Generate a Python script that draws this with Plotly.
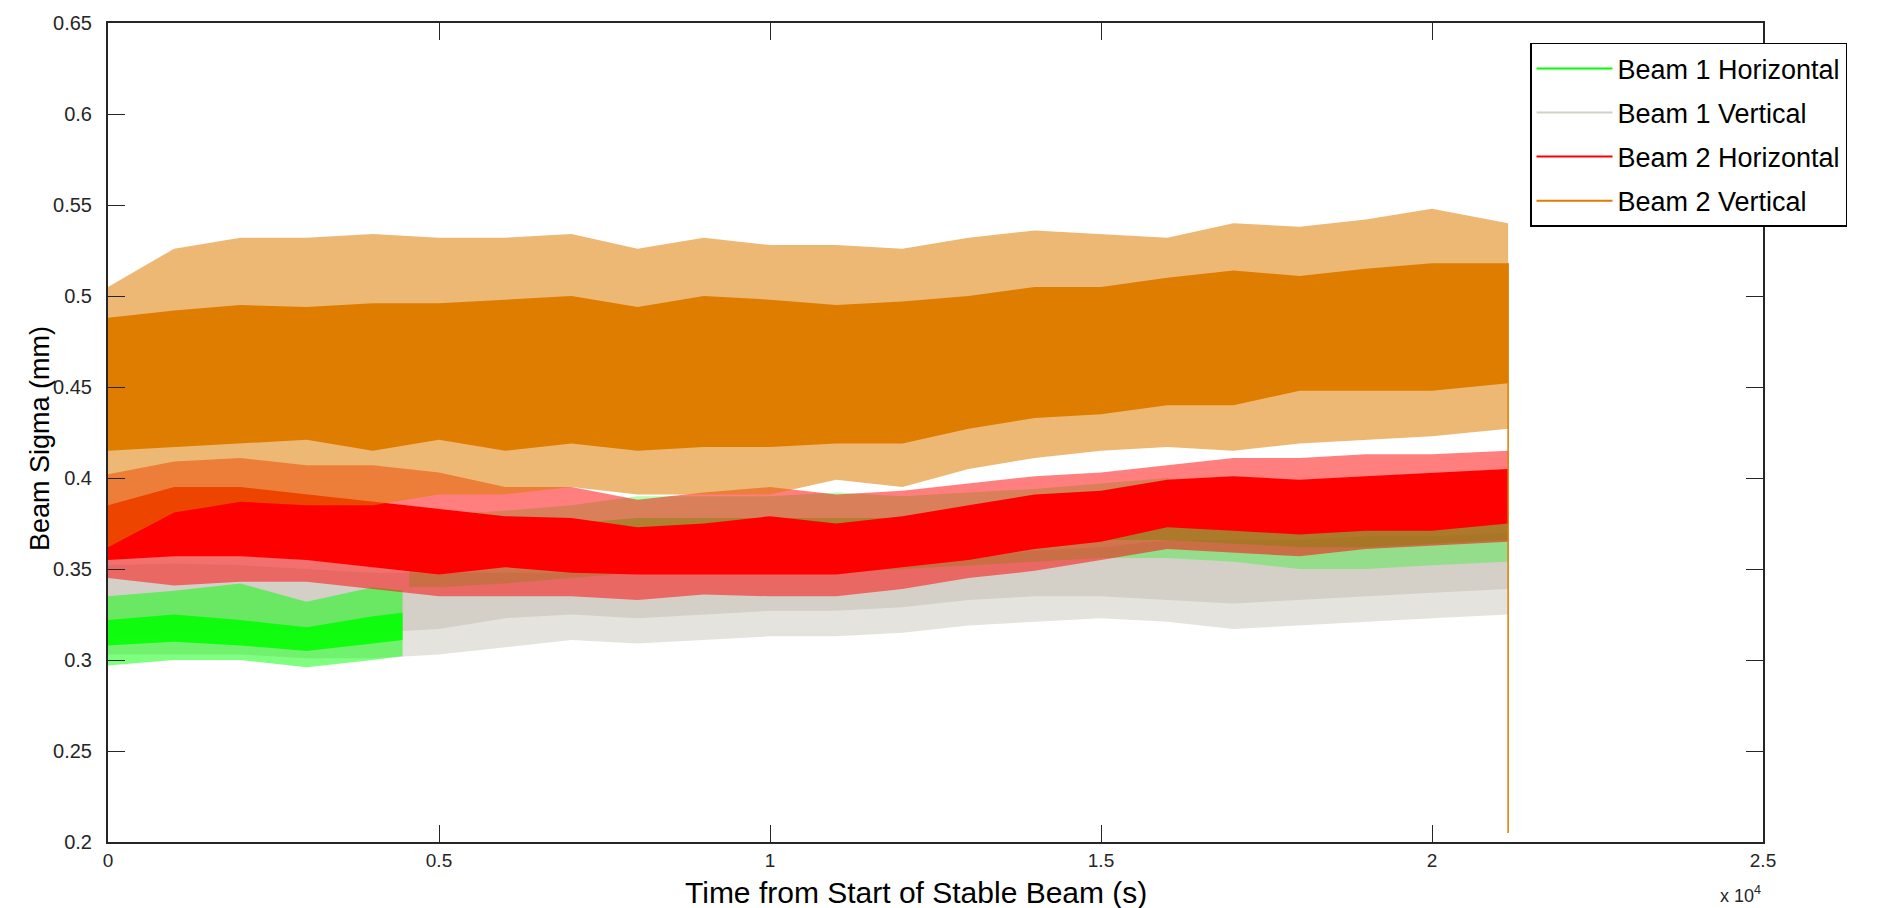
import plotly.graph_objects as go

# ---------------- data ----------------
# common sample times (s) for the envelope readings
times = [0, 1000, 2000, 3000, 4000, 5000, 6000, 7000, 8000, 9000, 10000,
         11000, 12000, 13000, 14000, 15000, 16000, 17000, 18000, 19000, 20000, 21150]

# Beam 2 Vertical (orange): spike tips, dense core, lower spike tips
b2v_outer_hi = [0.505, 0.526, 0.532, 0.532, 0.534, 0.532, 0.532, 0.534, 0.526, 0.532, 0.528,
                0.528, 0.526, 0.532, 0.536, 0.534, 0.532, 0.540, 0.538, 0.542, 0.548, 0.540]
b2v_core_hi = [0.488, 0.492, 0.495, 0.494, 0.496, 0.496, 0.498, 0.500, 0.494, 0.500, 0.498,
               0.495, 0.497, 0.500, 0.505, 0.505, 0.510, 0.514, 0.511, 0.515, 0.518, 0.518]
b2v_core_lo = [0.415, 0.417, 0.419, 0.421, 0.415, 0.421, 0.415, 0.419, 0.415, 0.417, 0.417,
               0.419, 0.419, 0.427, 0.433, 0.435, 0.440, 0.440, 0.448, 0.448, 0.448, 0.452]
b2v_outer_lo = [0.362, 0.381, 0.387, 0.385, 0.385, 0.391, 0.391, 0.395, 0.391, 0.391, 0.391,
                0.399, 0.395, 0.405, 0.411, 0.415, 0.417, 0.415, 0.419, 0.421, 0.423, 0.427]
b2v_last_time = 21150
b2v_last_drop = 0.205

# Beam 2 Horizontal (red)
b2h_outer_hi = [0.402, 0.409, 0.411, 0.407, 0.407, 0.403, 0.395, 0.395, 0.388, 0.392, 0.395,
                0.391, 0.393, 0.397, 0.401, 0.403, 0.407, 0.411, 0.411, 0.413, 0.413, 0.415]
b2h_core_hi = [0.385, 0.395, 0.395, 0.391, 0.387, 0.383, 0.379, 0.378, 0.373, 0.375, 0.379,
               0.375, 0.379, 0.385, 0.391, 0.393, 0.399, 0.401, 0.399, 0.401, 0.403, 0.405]
b2h_core_lo = [0.355, 0.357, 0.357, 0.355, 0.351, 0.347, 0.351, 0.348, 0.347, 0.347, 0.347,
               0.347, 0.351, 0.355, 0.361, 0.365, 0.373, 0.371, 0.369, 0.371, 0.371, 0.375]
b2h_outer_lo = [0.345, 0.341, 0.343, 0.343, 0.339, 0.335, 0.335, 0.335, 0.333, 0.336, 0.335,
                0.335, 0.339, 0.345, 0.349, 0.355, 0.361, 0.359, 0.357, 0.361, 0.363, 0.365]

# Beam 1 Vertical (grey)
b1v_outer_hi = [0.364, 0.365, 0.364, 0.362, 0.360, 0.360, 0.358, 0.358, 0.358, 0.358, 0.360,
                0.362, 0.364, 0.368, 0.372, 0.374, 0.376, 0.376, 0.376, 0.378, 0.378, 0.380]
b1v_core_hi = [0.352, 0.353, 0.352, 0.350, 0.348, 0.348, 0.348, 0.348, 0.348, 0.348, 0.350,
               0.350, 0.352, 0.356, 0.360, 0.362, 0.366, 0.366, 0.366, 0.368, 0.368, 0.370]
b1v_core_lo = [0.313, 0.315, 0.317, 0.315, 0.315, 0.317, 0.323, 0.325, 0.323, 0.325, 0.327,
               0.327, 0.329, 0.333, 0.335, 0.335, 0.333, 0.331, 0.333, 0.335, 0.337, 0.339]
b1v_outer_lo = [0.303, 0.303, 0.303, 0.301, 0.301, 0.303, 0.307, 0.311, 0.309, 0.311, 0.313,
                0.313, 0.315, 0.319, 0.321, 0.323, 0.321, 0.317, 0.319, 0.321, 0.323, 0.325]

# Beam 1 Horizontal (green) - own sample times, with a level step near 4500 s
b1h_times = [0, 1000, 2000, 3000, 4000, 4450,
             4550, 5000, 6000, 7000, 8000, 9000, 10000, 11000, 12000, 13000, 14000,
             15000, 16000, 17000, 18000, 19000, 20000, 21150]
b1h_step_index = 6
b1h_outer_hi = [0.335, 0.338, 0.342, 0.332, 0.340, 0.338,
                0.380, 0.380, 0.382, 0.385, 0.390, 0.390, 0.390, 0.392, 0.390, 0.392, 0.394,
                0.397, 0.400, 0.395, 0.392, 0.392, 0.395, 0.397]
b1h_core_hi = [0.322, 0.325, 0.322, 0.318, 0.324, 0.326,
               0.368, 0.370, 0.372, 0.375, 0.378, 0.378, 0.378, 0.378, 0.378, 0.380, 0.382,
               0.385, 0.386, 0.382, 0.380, 0.380, 0.382, 0.384]
b1h_core_lo = [0.308, 0.310, 0.308, 0.305, 0.309, 0.311,
               0.350, 0.350, 0.352, 0.355, 0.358, 0.358, 0.358, 0.358, 0.360, 0.362, 0.364,
               0.366, 0.366, 0.364, 0.362, 0.362, 0.364, 0.366]
b1h_outer_lo = [0.297, 0.300, 0.300, 0.296, 0.300, 0.302,
                0.340, 0.340, 0.342, 0.345, 0.348, 0.348, 0.348, 0.348, 0.350, 0.352, 0.354,
                0.356, 0.356, 0.354, 0.350, 0.350, 0.352, 0.354]

series_names = ["Beam 1 Horizontal", "Beam 1 Vertical", "Beam 2 Horizontal", "Beam 2 Vertical"]

x_tickvals = [0, 5000, 10000, 15000, 20000, 25000]
x_ticktext = ["0", "0.5", "1", "1.5", "2", "2.5"]
y_tickvals = [0.2, 0.25, 0.3, 0.35, 0.4, 0.45, 0.5, 0.55, 0.6, 0.65]
y_ticktext = ["0.2", "0.25", "0.3", "0.35", "0.4", "0.45", "0.5", "0.55", "0.6", "0.65"]

# ---------------- styles ----------------
COL = {
    "Beam 1 Horizontal": (0, 255, 0),
    "Beam 1 Vertical": (212, 208, 200),
    "Beam 2 Horizontal": (255, 0, 0),
    "Beam 2 Vertical": (222, 125, 0),
}
FONT = "Liberation Sans, Arial, Helvetica, sans-serif"
AX = "#262626"


def rgba(c, a):
    return f"rgba({c[0]},{c[1]},{c[2]},{a})"


fig = go.Figure()


def band(t, hi, lo, color, alpha):
    fig.add_trace(go.Scatter(
        x=list(t) + list(t)[::-1],
        y=list(hi) + list(lo)[::-1],
        mode="lines", line=dict(width=0), fill="toself",
        fillcolor=rgba(color, alpha), hoverinfo="skip", showlegend=False))


def series(t, outer_hi, core_hi, core_lo, outer_lo, color, core_alpha=1.0, fringe_alpha=0.55):
    band(t, outer_hi, outer_lo, color, fringe_alpha)
    band(t, core_hi, core_lo, color, core_alpha)


# grey (beam 1 vertical)
series(times, b1v_outer_hi, b1v_core_hi, b1v_core_lo, b1v_outer_lo, COL["Beam 1 Vertical"],
       1.0, 0.6)
# green (beam 1 horizontal), two segments around the level step
k = b1h_step_index
series(b1h_times[:k], b1h_outer_hi[:k], b1h_core_hi[:k], b1h_core_lo[:k], b1h_outer_lo[:k],
       COL["Beam 1 Horizontal"], 0.85, 0.5)
series(b1h_times[k:], b1h_outer_hi[k:], b1h_core_hi[k:], b1h_core_lo[k:], b1h_outer_lo[k:],
       COL["Beam 1 Horizontal"], 0.45, 0.3)
# red (beam 2 horizontal)
series(times, b2h_outer_hi, b2h_core_hi, b2h_core_lo, b2h_outer_lo, COL["Beam 2 Horizontal"],
       1.0, 0.5)
# orange (beam 2 vertical)
series(times, b2v_outer_hi, b2v_core_hi, b2v_core_lo, b2v_outer_lo, COL["Beam 2 Vertical"],
       1.0, 0.55)
# last sample of beam 2 vertical drops sharply
fig.add_trace(go.Scatter(
    x=[b2v_last_time, b2v_last_time], y=[b2v_core_hi[-1], b2v_last_drop],
    mode="lines", line=dict(color=rgba(COL["Beam 2 Vertical"], 1), width=1.5),
    hoverinfo="skip", showlegend=False))

# legend entries (line samples)
for i, name in enumerate(series_names):
    fig.add_trace(go.Scatter(
        x=[None], y=[None], mode="lines", name=name,
        line=dict(color=rgba(COL[name], 1), width=2),
        legendgroup=f"g{i}", showlegend=True))

fig.update_layout(
    width=1893, height=908,
    margin=dict(l=108, r=130, t=17, b=66),
    paper_bgcolor="white", plot_bgcolor="white",
    font=dict(family=FONT, color=AX, size=19),
    showlegend=True,
    legend=dict(
        x=(1530 - 108) / 1655, y=(842 - 37) / 825, xanchor="left", yanchor="top",
        bgcolor="white", bordercolor="black", borderwidth=1.5,
        font=dict(family=FONT, size=27, color="black"),
        itemwidth=76, tracegroupgap=6, traceorder="grouped",
    ),
    xaxis=dict(
        range=[0, 25000], tickvals=x_tickvals, ticktext=x_ticktext,
        ticks="inside", ticklen=17, tickwidth=1.2, tickcolor=AX,
        showline=True, linecolor=AX, linewidth=2, mirror="ticks",
        showgrid=False, zeroline=False,
        tickfont=dict(family=FONT, size=19, color=AX),
    ),
    yaxis=dict(
        range=[0.2, 0.65], tickvals=y_tickvals, ticktext=y_ticktext,
        ticks="inside", ticklen=17, tickwidth=1.2, tickcolor=AX,
        showline=True, linecolor=AX, linewidth=2, mirror="ticks",
        showgrid=False, zeroline=False, ticklabelstandoff=10,
        tickfont=dict(family=FONT, size=20, color=AX),
    ),
    annotations=[
        dict(text="Time from Start of Stable Beam (s)", xref="paper", yref="paper",
             x=(916 - 108) / 1655, y=-(893 - 842) / 825, xanchor="center", yanchor="middle",
             showarrow=False, font=dict(family=FONT, size=30, color="black")),
        dict(text="Beam Sigma (mm)", xref="paper", yref="paper", textangle=-90,
             x=-(108 - 40) / 1655, y=(842 - 436) / 825, xanchor="center", yanchor="middle",
             showarrow=False, font=dict(family=FONT, size=27, color="black")),
        dict(text="x 10<sup>4</sup>", xref="paper", yref="paper",
             x=1.0, y=-(895 - 842) / 825, xanchor="right", yanchor="middle",
             showarrow=False, font=dict(family=FONT, size=18, color=AX)),
    ],
)

fig.write_html("out.html", config={"displayModeBar": False},
               post_script="document.body.style.margin='0';")
